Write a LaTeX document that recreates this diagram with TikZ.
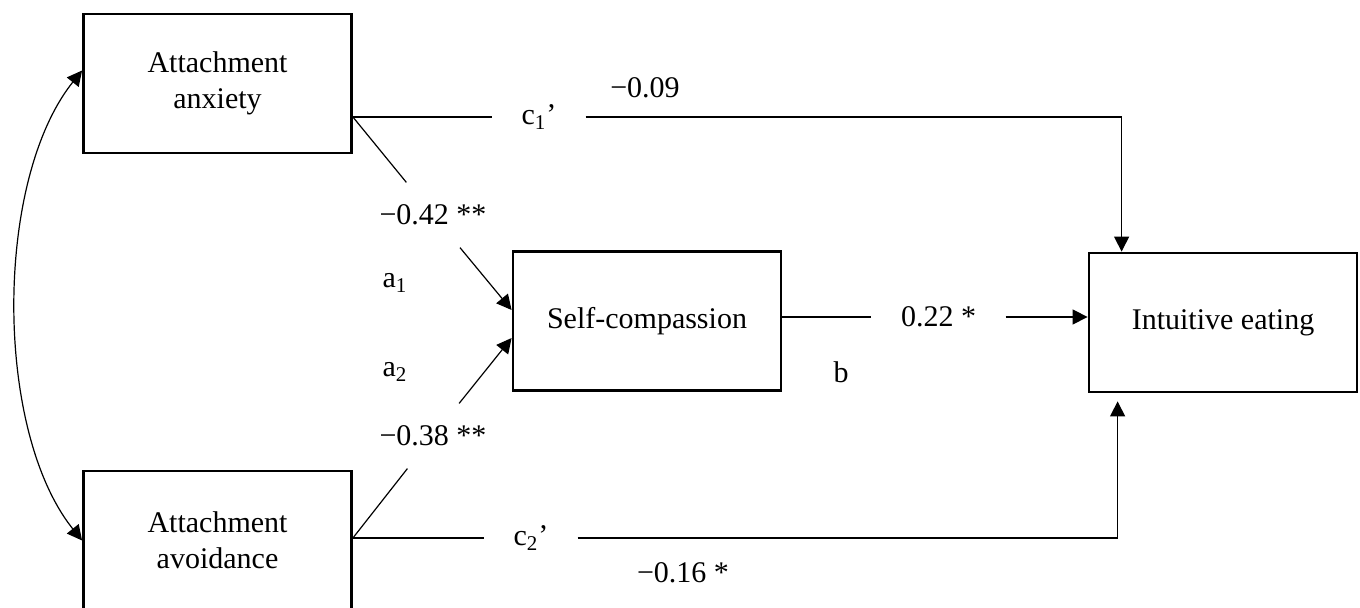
\documentclass[tikz,border=0pt]{standalone}
\usepackage{fontspec}
\setmainfont{Liberation Serif}
\usetikzlibrary{arrows.meta,calc,positioning}

\begin{document}
\begin{tikzpicture}[>={Triangle[length=7.5pt,width=7.5pt]}, x=0.5pt, y=-0.5pt, line width=0.6pt,
  var/.style={rectangle,draw,line width=1.4pt,minimum width=134pt,minimum height=69.5pt,
    align=center,font=\fontsize{15}{18}\selectfont},
  coef/.style={inner sep=0pt,font=\fontsize{15}{18}\selectfont}]
  \useasboundingbox (0,0) rectangle (1360,608);
  \node[var] (anx) at (217.5,83.5) {Attachment\\anxiety};
  \node[var] (avo) at (217.5,540.5) {Attachment\\avoidance};
  \node[var] (sc) at (647,321) {Self-compassion};
  \node[var] (ie) at (1223,322.5) {Intuitive eating};
  \node[coef,minimum width=46pt] (c1) at (539,117) {c\textsubscript{1}’};
  \node[coef,minimum width=46pt] (c2) at (531,538) {c\textsubscript{2}’};
  \node[coef,minimum width=66.5pt] (bv) at (938.5,317) {0.22 *};
  \node[coef,minimum height=32pt] (a1v) at (433,215) {−0.42 **};
  \node[coef,minimum height=32pt] (a2v) at (433,436) {−0.38 **};
  \node[coef] (c1v) at (645,88) {−0.09};
  \node[coef] (c2v) at (683,573) {−0.16 *};
  \node[coef] (a1) at (395,283) {a\textsubscript{1}};
  \node[coef] (a2) at (395,372) {a\textsubscript{2}};
  \node[coef] (b) at (841,372) {b};
  \draw[<->] (avo.west) .. controls +(-88,-110) and +(-88,110) .. ([yshift=6.5pt]anx.west);
  \draw (anx.east |- c1) -- (c1);
  \draw[->] (c1) -| ([xshift=17pt]ie.north west);
  \draw (anx.east |- c1) -- (a1v);
  \draw[->] (a1v) -- ([yshift=5.5pt]sc.west);
  \draw (avo.east |- c2) -- (a2v);
  \draw[->] (a2v) -- ([yshift=-8.5pt]sc.west);
  \draw (avo.east |- c2) -- (c2);
  \draw[->] (c2) -| ([xshift=15pt,yshift=-4pt]ie.south west);
  \draw (sc.east |- bv) -- (bv);
  \draw[->] (bv) -- (ie.west |- bv);
\end{tikzpicture}
\end{document}
